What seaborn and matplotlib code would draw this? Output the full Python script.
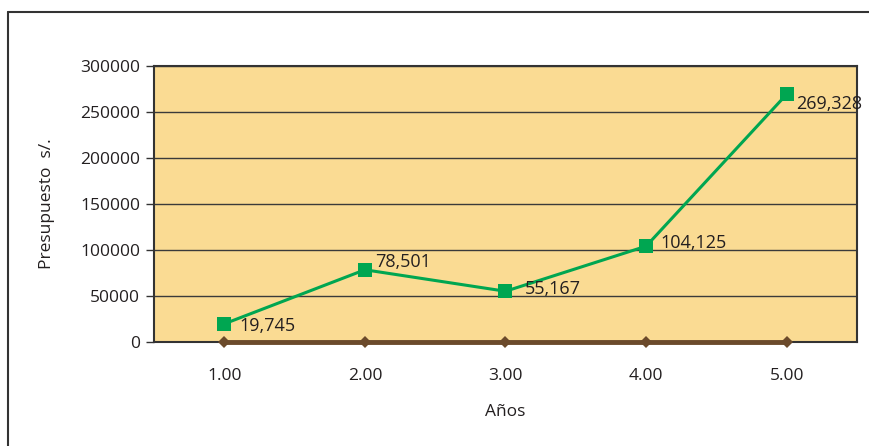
import matplotlib
matplotlib.use("Agg")
import matplotlib.pyplot as plt
import seaborn as sns
import pandas as pd
from matplotlib.lines import Line2D

years = ["1.00", "2.00", "3.00", "4.00", "5.00"]
presupuesto = [19745, 78501, 55167, 104125, 269328]
base = [0, 0, 0, 0, 0]
y_ticks = [0, 50000, 100000, 150000, 200000, 250000, 300000]

sns.set_theme(style="white")
plt.rcParams['font.family'] = ['Open Sans', 'DejaVu Sans']
txt = "#231F20"

fig = plt.figure(figsize=(8.69, 4.46), dpi=100)
ax = fig.add_axes([154/869, 1-342/446, 703/869, 276/446])
ax.set_facecolor("#FADB93")

xs = list(range(1, len(years) + 1))
df = pd.DataFrame({"x": xs, "y": presupuesto, "b": base})

for yt in y_ticks[1:]:
    ax.axhline(yt, color="#3a3a3a", lw=1.0, zorder=1)

sns.lineplot(data=df, x="x", y="b", ax=ax, color="#6B4A2B", lw=3.5,
             marker="D", markersize=6, markeredgewidth=0, zorder=6, clip_on=False)
sns.lineplot(data=df, x="x", y="y", ax=ax, color="#00A651", lw=2.2,
             marker="s", markersize=10.5, markeredgewidth=0, zorder=4)

offsets = [(15, -2), (10, 8), (19, 2), (14, 3), (9, -10)]
for x, v, (dx, dy) in zip(xs, presupuesto, offsets):
    ax.annotate(f"{v:,}", (x, v), xytext=(dx, dy), textcoords="offset pixels",
                ha="left", va="center", fontsize=13, color=txt, zorder=5)

ax.set_xlim(0.5, 5.5)
ax.set_ylim(0, 300000)
ax.set_yticks(y_ticks)
ax.set_yticklabels([str(t) for t in y_ticks], fontsize=12.5, color=txt)
ax.set_xticks(xs)
ax.set_xticklabels(years, fontsize=12.5, color=txt)
ax.set_xticks([0.5 + i for i in range(6)], minor=True)
ax.tick_params(axis="x", which="major", length=0, pad=19)
ax.tick_params(axis="x", which="minor", length=6, width=1, color="#333333", direction="out")
ax.tick_params(axis="y", length=6, width=1, color="#333333", direction="out", pad=4, left=True)
ax.set_xlabel("Años", fontsize=12.5, color=txt, labelpad=14)
ax.set_ylabel("Presupuesto  s/.", fontsize=12.5, color=txt, labelpad=18)
for s in ax.spines.values():
    s.set_visible(True)
    s.set_color("#333333")
    s.set_linewidth(1.5)

# outer frame (left and top only visible)
fig.add_artist(Line2D([8/869, 8/869], [0, 1-12/446], transform=fig.transFigure, color="#333333", lw=1.5))
fig.add_artist(Line2D([8/869, 1], [1-12/446, 1-12/446], transform=fig.transFigure, color="#333333", lw=1.5))

fig.savefig("out.png", dpi=100)
